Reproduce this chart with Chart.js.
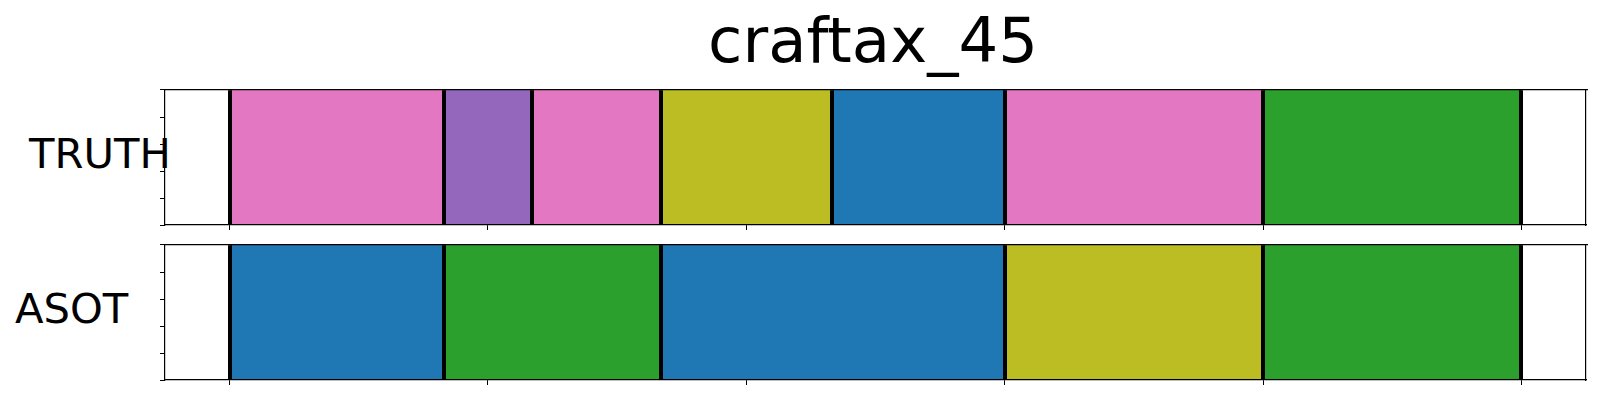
<!DOCTYPE html>
<html lang="en">
<head>
    <meta charset="UTF-8">
    <title>craftax_45</title>
    <script src="https://cdn.jsdelivr.net/npm/chart.js"></script>
    <style>
        body { margin: 0; width: 1600px; height: 400px; overflow: hidden; background: #fff; font-family: "DejaVu Sans", sans-serif; }
        .txt { position: absolute; color: #000; line-height: 1; white-space: nowrap; }
        #title { top: 10px; left: 0; width: 1746px; text-align: center; font-size: 62.5px; }
        .rowlabel { font-size: 41.7px; }
        canvas { position: absolute; left: 0; }
    </style>
</head>
<body>
    <div id="title" class="txt">craftax_45</div>
    <div class="txt rowlabel" style="left:29px; top:133px;">TRUTH</div>
    <div class="txt rowlabel" style="left:15px; top:288px;">ASOT</div>
    <canvas id="truthChart" width="1600" height="160" style="top:80px"></canvas>
    <canvas id="asotChart" width="1600" height="160" style="top:235px"></canvas>

    <script>
        // frame axis and its (unlabelled) ticks
        const xTicks = [0, 100, 200, 300, 400, 500];
        const yTicks = [0, 0.25, 0.5, 0.75, 1];

        // segment boundaries (frames) and the action class of each segment
        const truthBounds = [0, 83, 117, 167, 233, 300, 400, 500];
        const truthClasses = ['pink', 'purple', 'pink', 'olive', 'blue', 'pink', 'green'];
        const asotBounds = [0, 83, 167, 300, 400, 500];
        const asotClasses = ['blue', 'green', 'blue', 'olive', 'green'];

        const classColors = {
            blue: '#1f77b4',
            green: '#2ca02c',
            purple: '#9467bd',
            pink: '#e377c2',
            olive: '#bcbd22'
        };

        const xMin = -25, xMax = 525;

        function makePanel(id, label, bounds, classes) {
            const datasets = classes.map((c, i) => ({
                label: c,
                data: [[bounds[i], bounds[i + 1]]],
                backgroundColor: classColors[c],
                borderWidth: 0,
                borderSkipped: false,
                grouped: false,
                barPercentage: 1,
                categoryPercentage: 1
            }));

            const edge = { display: true, color: '#000', width: 1.2, z: 1 };

            return new Chart(document.getElementById(id), {
                type: 'bar',
                data: { labels: [label], datasets: datasets },
                options: {
                    indexAxis: 'y',
                    responsive: false,
                    animation: false,
                    devicePixelRatio: 1,
                    layout: { padding: { left: 160, right: 14, top: 10, bottom: 10 } },
                    plugins: { legend: { display: false }, tooltip: { enabled: false } },
                    scales: {
                        x: {
                            type: 'linear', position: 'bottom', min: xMin, max: xMax,
                            afterBuildTicks: s => { s.ticks = xTicks.map(v => ({ value: v })); },
                            afterFit: s => { s.height = 5; },
                            ticks: { display: false },
                            grid: { drawOnChartArea: false, drawTicks: true, tickLength: 5, color: '#000', lineWidth: 1 },
                            border: edge
                        },
                        // segment boundaries drawn as thick black lines over the bars
                        xb: {
                            type: 'linear', axis: 'x', position: 'top', min: xMin, max: xMax,
                            afterBuildTicks: s => { s.ticks = bounds.map(v => ({ value: v })); },
                            afterFit: s => { s.height = 0; },
                            ticks: { display: false },
                            grid: { drawOnChartArea: true, drawTicks: false, color: '#000', lineWidth: 4, z: 1 },
                            border: edge
                        },
                        y: { type: 'category', display: false },
                        yt: {
                            type: 'linear', axis: 'y', position: 'left', min: 0, max: 1,
                            afterBuildTicks: s => { s.ticks = yTicks.map(v => ({ value: v })); },
                            afterFit: s => { s.width = 5; },
                            ticks: { display: false },
                            grid: { drawOnChartArea: false, drawTicks: true, tickLength: 5, color: '#000', lineWidth: 1 },
                            border: edge
                        },
                        yr: {
                            type: 'linear', axis: 'y', position: 'right', min: 0, max: 1,
                            afterFit: s => { s.width = 0; },
                            ticks: { display: false },
                            grid: { drawOnChartArea: false, drawTicks: false },
                            border: edge
                        }
                    }
                }
            });
        }

        makePanel('truthChart', 'TRUTH', truthBounds, truthClasses);
        makePanel('asotChart', 'ASOT', asotBounds, asotClasses);
    </script>
</body>
</html>
